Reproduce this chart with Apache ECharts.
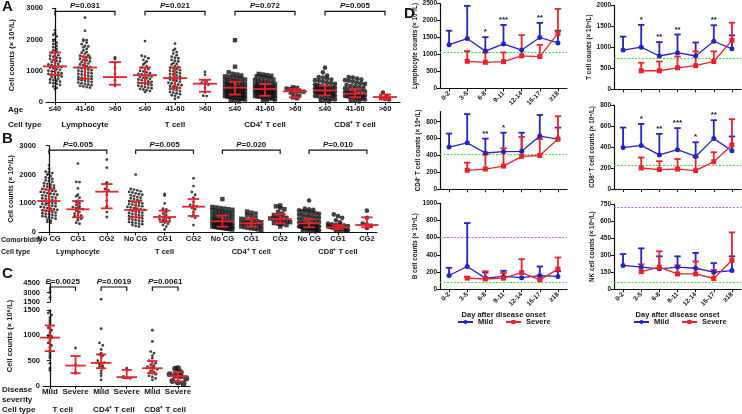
<!DOCTYPE html>
<html><head><meta charset="utf-8">
<script src="https://cdn.jsdelivr.net/npm/echarts@6/dist/echarts.min.js"></script>
<style>html,body{margin:0;padding:0;background:#fff}#c{width:742px;height:414px}</style>
</head><body><div id="c"></div><script>
// ---------------- DATA ----------------
const cellTypes = ['Lymphocyte', 'T cell', 'CD4⁺ T cell', 'CD8⁺ T cell'];
const ageLabels = ['≤40','41-60','>60','≤40','41-60','>60','≤40','41-60','>60','≤40','41-60','>60'];
const comorbLabels = ['No CG','CG1','CG2','No CG','CG1','CG2','No CG','CG1','CG2','No CG','CG1','CG2'];
const sevLabels = ['Mild','Severe','Mild','Severe','Mild','Severe'];
const cTypes = ['T cell', 'CD4⁺ T cell', 'CD8⁺ T cell'];

// Panel A (by age)
const aLym40 = [2300,2200,2150,2100,2000,1950,1900,1850,1800,1750,1700,1650,1620,1580,1550,1500,1480,1450,1420,1400,1380,1350,1320,1300,1280,1250,1220,1200,1180,1150,1130,1120,1100,1080,1050,1030,1000,980,960,940,920,900,880,860,840,820,800,780,750,720,700,680,650,620,600,580,550,500,450,420];
const aLym4160 = [2700,2280,2000,1980,1950,1900,1850,1800,1780,1750,1700,1650,1600,1580,1550,1500,1480,1450,1430,1400,1380,1350,1330,1300,1280,1250,1230,1200,1180,1150,1120,1100,1080,1060,1040,1020,1000,980,960,940,920,900,880,860,840,820,800,780,760,750,740,720,700,680,660,640,620,600,580,560,540,520,500,480,460];
const aLym60 = [1430,1380,1250,1100,900,700,560,520];
const aT40 = [1950,1480,1450,1400,1350,1300,1250,1200,1150,1100,1080,1050,1000,980,950,920,900,880,860,840,820,800,780,760,740,720,700,680,660,640,620,600,580,560,540,520,500,480,460,440,420,400,380,350,320];
const aT4160 = [1870,1700,1650,1600,1550,1500,1450,1420,1400,1350,1320,1300,1250,1220,1200,1150,1120,1100,1080,1050,1020,1000,980,950,920,900,880,850,820,800,780,760,740,720,700,680,650,620,600,580,560,540,520,500,480,450,420,400,380,350,320,300,280,250,220,200,150,100];
const aT60 = [960,870,700,660,620,580,550,460,310,200,190];
const aCd440 = [1980,1130,950,900,880,850,820,800,780,760,740,720,700,680,660,650,640,620,600,580,570,560,540,520,500,490,480,470,460,450,440,430,420,410,400,390,380,370,360,350,340,330,320,310,300,290,280,270,260,250,240,230,220,210,200,190,180,170,160,150,140,130,120,100,80,60,40,20];
const aCd44160 = [900,880,860,840,820,800,780,750,720,700,680,660,640,620,600,580,560,550,540,520,500,490,480,470,460,450,440,430,420,410,400,390,380,370,360,350,340,330,320,310,300,290,280,270,260,250,240,230,220,210,200,190,180,170,160,150,140,120,100,80,60,40];
const aCd460 = [470,450,430,410,380,350,330,300,250,200,150,120];
const aCd840 = [1100,950,850,800,780,750,720,700,680,650,620,600,580,560,540,520,500,490,480,470,460,450,440,430,420,410,400,390,380,370,360,350,340,330,320,310,300,290,280,270,260,250,240,230,220,210,200,190,180,160,140,120,100,80,60,40,20];
const aCd84160 = [800,780,750,720,700,680,650,620,600,580,550,520,500,480,460,440,420,400,380,360,340,320,300,290,280,270,260,250,240,230,220,210,200,190,180,170,160,150,140,120,100,80,60,40,20];
const aCd860 = [300,200,150,100,80];
const aMedian = [1140,1106,798, 860,766,585, 460,415,340, 372,266,160];
const aQ1 = [870,745,553, 606,447,330, 240,200,150, 213,150,80];
const aQ3 = [1585,1457,1277, 1106,1106,713, 650,575,415, 520,415,240];
const aP = ['0.031','0.021','0.072','0.005'];

// Panel B (by comorbidity)
const bLymNo = [2330,2200,2100,2080,2050,2000,1950,1900,1880,1850,1800,1780,1750,1700,1680,1650,1620,1600,1580,1550,1530,1500,1480,1460,1440,1420,1400,1380,1360,1340,1320,1300,1280,1260,1240,1220,1200,1180,1160,1140,1120,1100,1080,1060,1040,1020,1000,980,960,940,920,900,880,860,840,820,800,780,760,740,720,700,680,660,640,620,600,580,560,540,520,500,470,440,400,360,330];
const bLymCg1 = [2380,1750,1740,1520,1300,1250,1200,1100,1050,1000,950,900,870,840,830,800,750,700,650,600,580,560,500,470,420,330,300];
const bLymCg2 = [2520,2240,1720,1700,1500,1450,1300,1100,900,880,700,530];
const bTNo = [2000,1500,1480,1450,1420,1400,1380,1350,1320,1300,1280,1250,1220,1200,1180,1150,1120,1100,1080,1060,1040,1020,1000,980,960,940,920,900,880,860,840,820,800,780,760,740,720,700,680,660,640,620,600,580,560,540,520,500,480,460,440,420,400,380,360,340,320,300,280,250,220,200];
const bTCg1 = [1330,1270,1000,820,790,760,700,650,600,560,530,500,480,450,430,400,380,360,340,300,250,200,100];
const bTCg2 = [1870,1600,1400,1300,1200,1050,950,920,900,850,800,700,600,550,500,250];
const bCd4No = [1150,880,860,840,820,800,780,760,740,720,700,680,660,640,620,600,580,560,540,520,500,480,460,440,420,400,390,380,370,360,350,340,330,320,310,300,290,280,270,260,250,240,230,220,210,200,190,180,170,160,150,140,130,120,110,100];
const bCd4Cg1 = [720,680,650,600,550,500,470,450,420,400,380,350,330,320,310,300,280,260,240,220,200,180,160,140,120,100,80];
const bCd4Cg2 = [930,900,850,800,700,650,600,550,520,500,480,470,450,420,400,380,350,320,300,280,250,200];
const bCd8No = [1100,820,800,780,760,740,720,700,680,660,640,620,600,580,560,540,520,500,480,460,440,420,400,380,360,340,320,310,300,290,280,270,260,250,240,230,220,210,200,190,180,170,160,150,140,130,120,110,100,90,80,70,60,50,40,30];
const bCd8Cg1 = [620,560,500,420,350,300,280,260,250,240,220,200,190,180,170,160,150,140,130,120,110,100,90,80,70,60,50];
const bCd8Cg2 = [750,500,300,270,230,150];
const bMedian = [1084,796,1407, 773,530,888, 380,311,461, 311,173,254];
const bQ1 = [761,519,830, 519,369,565, 196,196,311, 173,104,173];
const bQ3 = [1488,1084,1672, 1073,750,1153, 577,473,623, 450,242,519];
const bP = ['0.005','0.005','0.020','0.010'];

// Panel C (by severity)
const cTMild = [3000,2200,1480,1440,1400,1350,1300,1250,1200,1150,1100,1050,1000,980,960,950,900,850,800,760,700,650,600,560,450,350,310];
const cTSev = [750,420,270,250];
const cCd4Mild = [1950,1130,850,800,720,650,620,600,560,500,470,460,430,400,380,350,300,250,200,120];
const cCd4Sev = [350,190,160,150];
const cCd8Mild = [1100,880,680,650,600,550,500,480,450,420,400,380,360,350,330,300,280,260,250,230,200,180,150,120];
const cCd8Sev = [350,340,270,230,200,190,150,100,70,50];
const cMedian = [955,403, 455,175, 351,195];
const cQ1 = [688,253, 351,156, 253,91];
const cQ3 = [1195,591, 623,318, 494,273];
const cP = ['0.0025','0.0019','0.0061'];

// Panel D (kinetics)
const days = ['0-2','3-5','6-8','9-11','12-14','15-17','≥18'];
const lymMild = [1290,1470,1100,1310,1130,1500,1340];
const lymMildErr = [1700,2430,1510,1870,null,1930,1700];
const lymSev = [null,800,770,790,960,940,1620];
const lymSevErr = [null,1100,1060,1060,1570,1280,2340];
const lymStars = ['','','*','***','','**',''];
const tMild = [930,1000,790,870,790,1140,960];
const tMildErr = [1250,1530,1120,1300,1110,1520,1280];
const tSev = [null,440,440,510,560,660,1160];
const tSevErr = [null,630,660,780,900,900,1580];
const tStars = ['','*','**','**','','**',''];
const cd4Mild = [500,550,430,445,450,630,595];
const cd4MildErr = [660,890,600,670,670,880,730];
const cd4Sev = [null,225,240,275,390,400,595];
const cd4SevErr = [null,315,410,485,620,595,865];
const cd4Stars = ['','','**','*','','',''];
const cd8Mild = [395,415,325,375,310,480,365];
const cd8MildErr = [585,620,525,580,445,655,500];
const cd8Sev = [null,200,185,190,175,260,420];
const cd8SevErr = [null,300,265,285,305,350,665];
const cd8Stars = ['','*','**','***','*','**',''];
const bcMild = [160,265,130,150,135,160,150];
const bcMildErr = [250,770,195,215,null,265,210];
const bcSev = [null,130,120,130,195,110,235];
const bcSevErr = [null,145,210,190,350,150,370];
const bcStars = ['','','','','','',''];
const nkMild = [210,195,180,195,185,150,165];
const nkMildErr = [310,360,290,290,320,230,290];
const nkSev = [null,155,195,135,135,95,255];
const nkSevErr = [null,220,335,210,245,170,500];
const nkStars = ['','','','','','',''];
const refLow = [1080,740,420,225,85,65];
const refHigh = [null,null,null,null,610,720];
const dNames = ['Lymphocyte counts (× 10⁶/L)','T cell counts (× 10⁶/L)','CD4⁺ T cell counts (× 10⁶/L)','CD8⁺ T cell counts (× 10⁶/L)','B cell counts (× 10⁶/L)','NK cell counts (× 10⁶/L)'];

// ---------------- STYLE / BUILD ----------------
const FONT = '"Liberation Sans", Arial, sans-serif';
const TXT = '#151515';
const RED = '#ec2228';
const BLUE = '#2323c6';
const axLine = {show:true, lineStyle:{color:'#111', width:1.2}};
const axTick = {show:true, length:3, lineStyle:{color:'#111', width:1}};
const lbl = (fs) => ({fontSize:fs, fontWeight:'bold', color:TXT, fontFamily:FONT});
const plain = v => String(v);

const grid = [], xAxis = [], yAxis = [], series = [];

const MK = {
  dot:{symbol:'circle', size:2.8, rowPx:3, dxPx:3.3},
  sq:{symbol:'rect', size:4.4, rowPx:4, dxPx:4.2},
  circ:{symbol:'circle', size:4.6, rowPx:4, dxPx:4.2},
  big:{symbol:'circle', size:6, rowPx:5, dxPx:5.5}
};

function swarm(vals, g, rowV, dxU, maxHalfU) {
  const rows = new Map();
  vals.forEach(v => { const k = Math.round(v / rowV); if (!rows.has(k)) rows.set(k, []); rows.get(k).push(v); });
  const out = [];
  rows.forEach(r => {
    const n = r.length; let s = dxU;
    if (n > 1 && (n - 1) * s / 2 > maxHalfU) s = 2 * maxHalfU / (n - 1);
    r.forEach((v, i) => out.push([g + (i - (n - 1) / 2) * s, v]));
  });
  return out;
}

function addScatter(ai, vals, g, mk, xPx, yPx) {
  const m = MK[mk];
  series.push({type:'scatter', xAxisIndex:ai, yAxisIndex:ai, symbol:m.symbol, symbolSize:m.size,
    itemStyle:{color:'#111'}, z:3, silent:true,
    data: swarm(vals, g, m.rowPx / yPx, m.dxPx / xPx, 10 / xPx)});
}

function addIqr(ai, med, q1, q3) {
  series.push({type:'custom', xAxisIndex:ai, yAxisIndex:ai, z:6, silent:true, clip:false,
    data: med.map((m, i) => [i, m, q1[i], q3[i]]),
    renderItem: (p, api) => {
      const g = api.value(0), m = api.value(1), a = api.value(2), b = api.value(3);
      const L = (x1, y1, x2, y2) => {
        const P = api.coord([x1, y1]), Q = api.coord([x2, y2]);
        return {type:'line', shape:{x1:P[0], y1:P[1], x2:Q[0], y2:Q[1]}, style:{stroke:RED, lineWidth:1.8}};
      };
      return {type:'group', children:[L(g-0.4,m,g+0.4,m), L(g,a,g,b), L(g-0.2,a,g+0.2,a), L(g-0.2,b,g+0.2,b)]};
    }});
}

function addBrackets(ai, pairs, yv, texts) {
  series.push({type:'custom', xAxisIndex:ai, yAxisIndex:ai, z:6, silent:true, clip:false,
    data: pairs.map(p => [p[0], p[1], yv]),
    renderItem: (p, api) => {
      const a = api.coord([api.value(0), api.value(2)]), b = api.coord([api.value(1), api.value(2)]);
      return {type:'group', children:[
        {type:'polyline', shape:{points:[[a[0], a[1]+4],[a[0], a[1]],[b[0], b[1]],[b[0], b[1]+4]]}, style:{stroke:'#111', lineWidth:1.2, fill:null}},
        {type:'text', x:(a[0]+b[0])/2, y:a[1]-1.5, style:{text:'{i|P}=' + texts[p.dataIndex], rich:{i:{fontStyle:'italic', fontWeight:'bold', fontSize:8, fontFamily:FONT, fill:TXT}}, fontSize:8, fontWeight:'bold', fontFamily:FONT, fill:TXT, align:'center', verticalAlign:'bottom'}}
      ]};
    }});
}

// row of cell-type names under an axis, centred at given x positions (data coords), offset below the axis
function addTypeRow(ai, xs, names, dy, fs) {
  series.push({type:'custom', xAxisIndex:ai, yAxisIndex:ai, silent:true, clip:false,
    data: xs.map(x => [x, 0]),
    renderItem: (p, api) => {
      const c = api.coord([api.value(0), api.value(1)]);
      return {type:'text', x:c[0], y:c[1] + dy, style:{text:names[p.dataIndex], fontSize:fs, fontWeight:'bold', fontFamily:FONT, fill:TXT, align:'center', verticalAlign:'middle'}};
    }});
}

function yAx(gi, min, max, interval, extra) {
  return Object.assign({gridIndex:gi, type:'value', min, max, interval, axisLine:axLine, axisTick:axTick, splitLine:{show:false},
    axisLabel:Object.assign(lbl(7.5), {margin:3, formatter:plain})}, extra || {});
}

function xCatValue(gi, min, max, labels, fs, margin) {
  const idx = labels.map((_, i) => i);
  return {gridIndex:gi, type:'value', min, max, axisLine:axLine, splitLine:{show:false},
    axisTick:Object.assign({}, axTick, {customValues:idx}),
    axisLabel:Object.assign(lbl(fs), {customValues:idx, margin, showMinLabel:true, showMaxLabel:true, hideOverlap:false,
      formatter: v => labels[Math.round(v)]})};
}

// ---- Panel A ----
grid.push({left:46, top:8.3, width:354, height:93.7});
xAxis.push(xCatValue(0, -0.3, 11.5, ageLabels, 7.5, 3));
yAxis.push(yAx(0, 0, 3000, 1000, {name:'Cell counts (× 10⁶/L)', nameLocation:'middle', nameGap:30, nameTextStyle:lbl(7.5)}));
const aVals = [aLym40,aLym4160,aLym60,aT40,aT4160,aT60,aCd440,aCd44160,aCd460,aCd840,aCd84160,aCd860];
const abMk = ['dot','dot','dot','dot','dot','dot','sq','sq','sq','circ','circ','circ'];
aVals.forEach((v, i) => addScatter(0, v, i, abMk[i], 30, 93.7/3000));
addIqr(0, aMedian, aQ1, aQ3);
addBrackets(0, [[0,2],[3,5],[6,8],[9,11]], 2900, aP);
addTypeRow(0, [1,4,7,10], cellTypes, 23, 8);

// ---- Panel B ----
grid.push({left:39, top:145.7, width:338, height:86.6});
xAxis.push(xCatValue(1, -0.346, 11.35, comorbLabels, 7.5, 3));
yAxis.push(yAx(1, 0, 3000, 1000, {name:'Cell counts (× 10⁶/L)', nameLocation:'middle', nameGap:24, nameTextStyle:lbl(7)}));
const bVals = [bLymNo,bLymCg1,bLymCg2,bTNo,bTCg1,bTCg2,bCd4No,bCd4Cg1,bCd4Cg2,bCd8No,bCd8Cg1,bCd8Cg2];
bVals.forEach((v, i) => addScatter(1, v, i, abMk[i], 28.9, 86.6/3000));
addIqr(1, bMedian, bQ1, bQ3);
addBrackets(1, [[0,2],[3,5],[6,8],[9,11]], 2850, bP);
addTypeRow(1, [1,4,7,10], cellTypes, 20, 7.5);

// ---- Panel C (broken axis: upper 2, lower 3) ----
grid.push({left:43, top:283, width:147, height:19});
grid.push({left:43, top:310, width:147, height:76});
xAxis.push({gridIndex:2, type:'value', min:-0.27, max:5.47, show:false});
xAxis.push(xCatValue(3, -0.27, 5.47, sevLabels, 8, 2));
yAxis.push(yAx(2, 1500, 4500, 1500));
yAxis.push(yAx(3, 0, 1500, 500));
const cVals = [cTMild,cTSev,cCd4Mild,cCd4Sev,cCd8Mild,cCd8Sev];
const cMk = ['dot','dot','dot','dot','dot','big'];
cVals.forEach((v, i) => {
  const lo = v.filter(x => x <= 1500), hi = v.filter(x => x > 1500);
  addScatter(3, lo, i, cMk[i], 25.6, 76/1500);
  if (hi.length) addScatter(2, hi, i, cMk[i], 25.6, 19/3000);
});
addIqr(3, cMedian, cQ1, cQ3);
addBrackets(2, [[0,1],[2,3],[4,5]], 3870, cP);
addTypeRow(3, [0.5,2.5,4.5], cTypes, 24, 8);

// ---- Panel D ----
const dGrid = [[440,3.3,127,85.2],[614,5,127,84.3],[440,111.6,127,77.7],[614,105,127,84],[440,203.3,127,86],[614,204,127,85.3]];
const dMax = [2500,2000,920,800,1000,750];
const dInt = [500,500,200,200,200,150];
const dLabels = [true,false,false,false,true,true];
const dMild = [lymMild,tMild,cd4Mild,cd8Mild,bcMild,nkMild];
const dMildErr = [lymMildErr,tMildErr,cd4MildErr,cd8MildErr,bcMildErr,nkMildErr];
const dSev = [lymSev,tSev,cd4Sev,cd8Sev,bcSev,nkSev];
const dSevErr = [lymSevErr,tSevErr,cd4SevErr,cd8SevErr,bcSevErr,nkSevErr];
const dStars = [lymStars,tStars,cd4Stars,cd8Stars,bcStars,nkStars];

function errSeries(ai, mean, err, color, stars) {
  return {type:'custom', xAxisIndex:ai, yAxisIndex:ai, z:2, silent:true, clip:false,
    data: mean.map((v, i) => [i, v, err[i]]).filter(d => d[1] != null && d[2] != null),
    renderItem: (p, api) => {
      const i = api.value(0);
      const a = api.coord([i, api.value(1)]), b = api.coord([i, api.value(2)]);
      const ch = [
        {type:'line', shape:{x1:a[0], y1:a[1], x2:b[0], y2:b[1]}, style:{stroke:color, lineWidth:1.8}},
        {type:'line', shape:{x1:b[0]-3.2, y1:b[1], x2:b[0]+3.2, y2:b[1]}, style:{stroke:color, lineWidth:1.8}}
      ];
      if (stars && stars[i]) ch.push({type:'text', x:b[0], y:b[1]-1, style:{text:stars[i], fontSize:8, fontWeight:'bold', fontFamily:FONT, fill:TXT, align:'center', verticalAlign:'bottom'}});
      return {type:'group', children:ch};
    }};
}

dGrid.forEach((gd, k) => {
  const ai = 4 + k;
  grid.push({left:gd[0], top:gd[1], width:gd[2], height:gd[3]});
  const bottomRow = k >= 4;
  xAxis.push(Object.assign({gridIndex:ai, type:'category', data:days, boundaryGap:true, axisLine:axLine,
    axisTick:{show:true, alignWithLabel:true, length:3, lineStyle:{color:'#111'}},
    axisLabel:Object.assign(lbl(6.5), {show:dLabels[k], rotate:45, margin:4, interval:0})},
    bottomRow ? {name:'Day after disease onset', nameLocation:'middle', nameGap:19, nameTextStyle:lbl(7.5)} : {}));
  yAxis.push({gridIndex:ai, type:'value', min:0, max:dMax[k], interval:dInt[k], axisLine:axLine,
    axisTick:{show:true, length:3, lineStyle:{color:'#111'}}, splitLine:{show:false},
    axisLabel:Object.assign(lbl(6.5), {margin:3, formatter:plain, showMaxLabel: dMax[k] % dInt[k] === 0}),
    name:dNames[k], nameLocation:'middle', nameGap:19, nameTextStyle:lbl(6.3)});
  const ml = [{yAxis:refLow[k], lineStyle:{color:'#3fd83f', type:[2,1.5], width:1}}];
  if (refHigh[k] != null) ml.push({yAxis:refHigh[k], lineStyle:{color:'#c45cf0', type:[2,1.5], width:1}});
  series.push(errSeries(ai, dMild[k], dMildErr[k], BLUE, dStars[k]));
  series.push(errSeries(ai, dSev[k], dSevErr[k], RED, null));
  series.push({type:'line', name:'Mild', xAxisIndex:ai, yAxisIndex:ai, data:dMild[k], symbol:'circle', symbolSize:5,
    itemStyle:{color:BLUE}, lineStyle:{color:BLUE, width:1.3}, z:4, silent:true,
    markLine:{silent:true, symbol:['none','none'], label:{show:false}, data:ml, z:1}});
  series.push({type:'line', name:'Severe', xAxisIndex:ai, yAxisIndex:ai, data:dSev[k], symbol:'rect', symbolSize:5,
    itemStyle:{color:RED}, lineStyle:{color:RED, width:1.3}, z:4, silent:true});
});

const legendBase = {data:['Mild','Severe'], top:318, itemWidth:15, itemHeight:5, itemGap:12, textStyle:lbl(7.5), selectedMode:false, padding:0, width:200};

const gtxt = (text, x, y, fs, extra) => Object.assign({type:'text', x, y, style:{text, fontSize:fs, fontWeight:'bold', fontFamily:FONT, fill:TXT, verticalAlign:'middle'}}, extra || {});

const option = {
  animation:false,
  backgroundColor:'#fff',
  textStyle:{fontFamily:FONT},
  grid, xAxis, yAxis, series,
  legend:[Object.assign({left:457}, legendBase), Object.assign({left:633}, legendBase)],
  graphic:[
    gtxt('A', 2, 7, 15), gtxt('B', 2, 139, 15), gtxt('C', 2, 274, 15), gtxt('D', 404, 14, 15),
    gtxt('Age', 8, 109.5, 8), gtxt('Cell type', 8, 125, 8),
    gtxt('Comorbidity', 1, 240, 7), gtxt('Cell type', 1, 252, 7),
    gtxt('Disease', 2, 390, 8), gtxt('severity', 2, 400, 8), gtxt('Cell type', 2, 410, 8),
    {type:'text', x:10, y:336, rotation:Math.PI/2, style:{text:'Cell counts (× 10⁶/L)', fontSize:7.5, fontWeight:'bold', fontFamily:FONT, fill:TXT, align:'center', verticalAlign:'middle'}}
  ]
};

const chart = echarts.init(document.getElementById('c'), null, {renderer:'canvas'});
chart.setOption(option);
</script></body></html>
